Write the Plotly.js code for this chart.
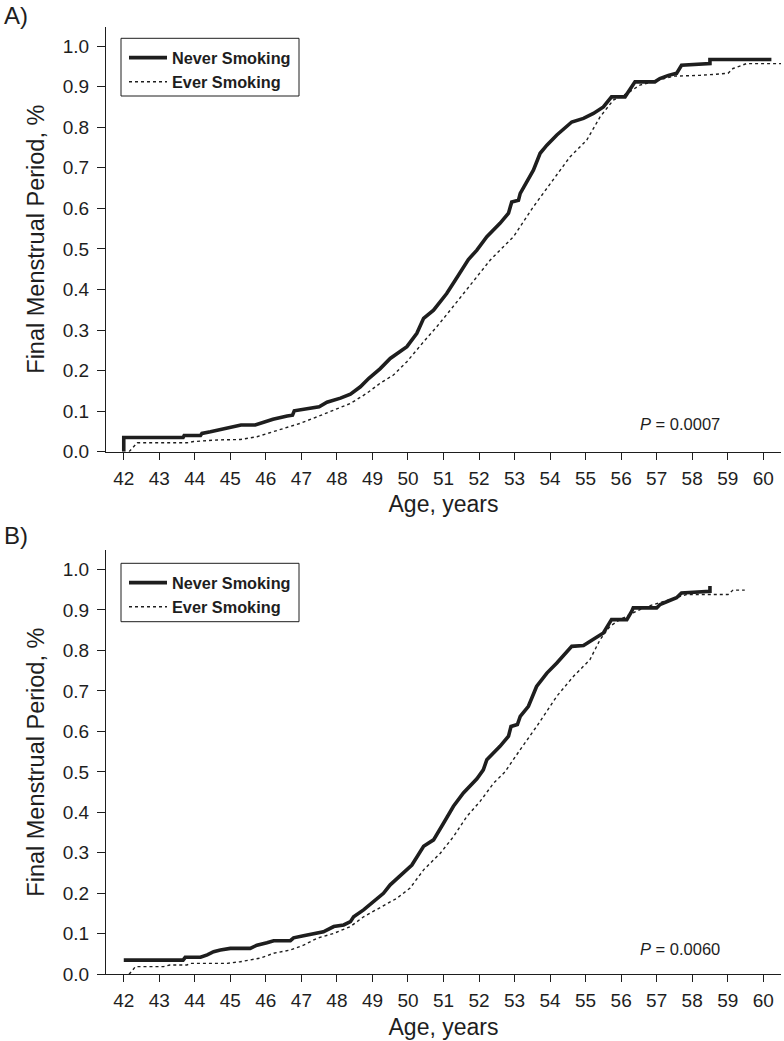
<!DOCTYPE html>
<html>
<head>
<meta charset="utf-8">
<script src="https://cdn.plot.ly/plotly-3.0.1.min.js"></script>
<style>html,body{margin:0;padding:0;background:#fff;}#chart{width:784px;height:1041px;}</style>
</head>
<body>
<div id="chart"></div>
<script>
// Panel A: Never Smoking
const ageNeverA = [42,42,43.67,43.7,44.16,44.2,44.44,44.9,45.3,45.7,46.0,46.2,46.6,46.75,46.8,47.3,47.5,47.72,48.1,48.38,48.66,48.9,49.22,49.5,49.97,50.25,50.44,50.72,51.09,51.33,51.52,51.7,51.94,52.12,52.22,52.59,52.83,52.92,53.11,53.16,53.39,53.53,53.72,53.91,54.19,54.42,54.61,54.94,55.22,55.5,55.73,56.11,56.2,56.39,56.95,57.09,57.33,57.56,57.7,58.5,58.5,60.23];
const fmpNeverA = [0,0.035,0.035,0.04,0.04,0.045,0.049,0.058,0.066,0.066,0.074,0.08,0.088,0.09,0.101,0.107,0.111,0.122,0.132,0.142,0.16,0.181,0.205,0.23,0.259,0.292,0.329,0.349,0.39,0.423,0.448,0.474,0.497,0.52,0.53,0.563,0.588,0.616,0.62,0.637,0.67,0.694,0.736,0.756,0.781,0.797,0.813,0.822,0.834,0.85,0.875,0.875,0.887,0.912,0.912,0.92,0.928,0.933,0.953,0.957,0.967,0.967];
// Panel A: Ever Smoking
const ageEverA = [42.15,42.38,43.78,43.97,44.63,45.28,45.75,46.03,46.5,46.97,47.44,47.91,48.38,48.84,49.22,49.59,49.97,50.44,50.81,51.19,51.56,51.94,52.31,52.59,52.97,53.53,54.09,54.56,55.03,55.41,55.78,56.16,56.53,57.09,57.47,58.22,59.01,59.15,59.53,60.5];
const fmpEverA = [0,0.022,0.022,0.025,0.029,0.03,0.037,0.045,0.058,0.07,0.086,0.103,0.119,0.144,0.169,0.189,0.222,0.271,0.308,0.349,0.39,0.431,0.472,0.497,0.53,0.604,0.67,0.727,0.768,0.826,0.867,0.883,0.904,0.916,0.926,0.928,0.933,0.945,0.957,0.957];
// Panel B: Never Smoking
const ageNeverB = [42,43.67,43.73,44.16,44.35,44.53,44.72,45.0,45.56,45.75,46.03,46.22,46.69,46.78,47.06,47.39,47.62,47.91,48.19,48.38,48.47,48.75,49.03,49.31,49.5,49.88,50.11,50.44,50.72,51.0,51.28,51.56,51.94,52.12,52.22,52.59,52.83,52.9,53.08,53.16,53.39,53.62,53.91,54.19,54.42,54.61,54.94,55.22,55.5,55.73,56.16,56.3,56.34,57.0,57.09,57.33,57.56,57.7,58.5,58.5];
const fmpNeverB = [0.035,0.035,0.042,0.042,0.048,0.056,0.06,0.064,0.064,0.072,0.078,0.083,0.083,0.09,0.095,0.1,0.105,0.118,0.122,0.13,0.142,0.159,0.18,0.2,0.221,0.25,0.27,0.316,0.332,0.373,0.415,0.448,0.483,0.505,0.53,0.563,0.588,0.612,0.617,0.637,0.662,0.711,0.744,0.769,0.79,0.81,0.812,0.827,0.843,0.876,0.876,0.897,0.905,0.905,0.913,0.922,0.93,0.942,0.946,0.959];
// Panel B: Ever Smoking
const ageEverB = [42.15,42.33,43.12,43.3,43.78,43.88,44.91,45.28,45.84,46.22,46.69,47.06,47.44,47.91,48.38,48.75,49.22,49.69,50.06,50.44,50.91,51.28,51.66,52.03,52.41,52.73,53.16,53.62,54.19,54.66,55.12,55.41,55.69,55.97,56.34,56.72,57.09,57.47,57.84,59.01,59.15,59.48];
const fmpEverB = [0,0.019,0.019,0.023,0.023,0.027,0.027,0.031,0.04,0.052,0.06,0.072,0.089,0.101,0.118,0.142,0.165,0.188,0.213,0.258,0.299,0.34,0.39,0.427,0.472,0.5,0.555,0.612,0.687,0.736,0.777,0.827,0.86,0.876,0.893,0.908,0.918,0.928,0.938,0.938,0.949,0.949];

const seriesNames = ["Never Smoking", "Ever Smoking"];
const panelLabels = ["A)", "B)"];
const pValues = ["<i>P</i> = 0.0007", "<i>P</i> = 0.0060"];
const xTicks = [42,43,44,45,46,47,48,49,50,51,52,53,54,55,56,57,58,59,60];
const yTicks = [0,0.1,0.2,0.3,0.4,0.5,0.6,0.7,0.8,0.9,1.0];

const FONT = "Liberation Sans, Arial, sans-serif";
const INK = "#1e1e1e";
const solid = {color: INK, width: 3.6};
const dotted = {color: INK, width: 1.4, dash: "dot"};

const traces = [
  {x: ageNeverA, y: fmpNeverA, name: seriesNames[0], mode: "lines", line: solid, xaxis: "x", yaxis: "y", legend: "legend"},
  {x: ageEverA, y: fmpEverA, name: seriesNames[1], mode: "lines", line: dotted, xaxis: "x", yaxis: "y", legend: "legend"},
  {x: ageNeverB, y: fmpNeverB, name: seriesNames[0], mode: "lines", line: solid, xaxis: "x2", yaxis: "y2", legend: "legend2"},
  {x: ageEverB, y: fmpEverB, name: seriesNames[1], mode: "lines", line: dotted, xaxis: "x2", yaxis: "y2", legend: "legend2"}
];

function xax(anchor) {
  return {
    domain: [106/784, 781/784], range: [41.5, 60.5], anchor: anchor,
    tickmode: "array", tickvals: xTicks, ticktext: xTicks.map(String),
    ticks: "outside", ticklen: 7, tickwidth: 1, tickcolor: INK,
    showline: true, linecolor: INK, linewidth: 1, showgrid: false, zeroline: false,
    tickfont: {family: FONT, size: 19, color: INK},
    ticklabelstandoff: 2,
    title: {text: "Age, years", font: {family: FONT, size: 23, color: INK}, standoff: 8},
    automargin: false
  };
}
function yax(anchor, dom) {
  return {
    domain: dom, range: [0, 1.048], anchor: anchor,
    tickmode: "array", tickvals: yTicks, ticktext: yTicks.map(v => v.toFixed(1)),
    ticks: "outside", ticklen: 8, tickwidth: 1, tickcolor: INK,
    showline: true, linecolor: INK, linewidth: 1, showgrid: false, zeroline: false,
    tickfont: {family: FONT, size: 19, color: INK},
    ticklabelstandoff: 4,
    title: {text: "Final Menstrual Period, %", font: {family: FONT, size: 23.5, color: INK}, standoff: 11},
    automargin: false
  };
}

const legendStyle = (ytop) => ({
  x: 124/784, y: ytop, xanchor: "left", yanchor: "top",
  borderwidth: 0, bgcolor: "rgba(0,0,0,0)",
  font: {family: FONT, size: 16.3, color: INK, weight: "bold"},
  itemwidth: 38,
  tracegroupgap: 0
});

const boxShape = (y0, y1) => ({
  type: "rect", xref: "paper", yref: "paper", layer: "above",
  x0: 121/784, x1: 299/784, y0: 1 - y1/1041, y1: 1 - y0/1041,
  line: {color: INK, width: 1}, fillcolor: "rgba(0,0,0,0)"
});

const layout = {
  width: 784, height: 1041,
  margin: {l: 0, r: 0, t: 0, b: 0},
  paper_bgcolor: "#fff", plot_bgcolor: "#fff",
  font: {family: FONT, color: INK},
  showlegend: true,
  xaxis: xax("y"),
  yaxis: yax("x", [(1041-451.7)/1041, (1041-26.7)/1041]),
  xaxis2: xax("y2"),
  yaxis2: yax("x2", [(1041-974.3)/1041, (1041-550)/1041]),
  legend: legendStyle(1 - 40.5/1041),
  legend2: legendStyle(1 - 565.5/1041),
  shapes: [boxShape(38.3, 96), boxShape(563.3, 621.7)],
  annotations: [
    {xref: "paper", yref: "paper", x: 2/784, y: 1 - 15/1041, xanchor: "left", yanchor: "middle", text: panelLabels[0], showarrow: false, font: {family: FONT, size: 24, color: INK}},
    {xref: "paper", yref: "paper", x: 2/784, y: 1 - 535/1041, xanchor: "left", yanchor: "middle", text: panelLabels[1], showarrow: false, font: {family: FONT, size: 24, color: INK}},
    {xref: "x", yref: "y", x: 57.66, y: 0.068, text: pValues[0], showarrow: false, font: {family: FONT, size: 16.5, color: INK}},
    {xref: "x2", yref: "y2", x: 57.66, y: 0.063, text: pValues[1], showarrow: false, font: {family: FONT, size: 16.5, color: INK}}
  ]
};

Plotly.newPlot("chart", traces, layout, {staticPlot: true, displayModeBar: false});
</script>
</body>
</html>
